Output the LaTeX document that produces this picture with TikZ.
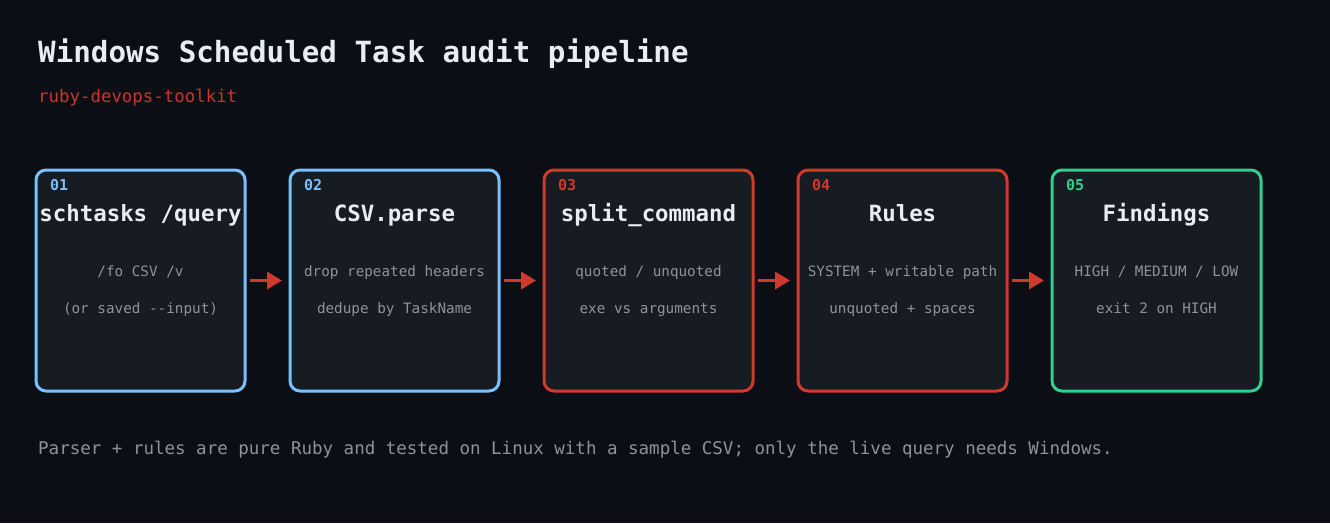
\documentclass[tikz,border=0pt]{standalone}
\usepackage{fontspec}
\setmainfont{DejaVu Sans Mono}
\usetikzlibrary{arrows.meta}
\definecolor{bg}{HTML}{0B0E14}
\definecolor{boxfill}{HTML}{171B22}
\definecolor{cblue}{HTML}{79C0FF}
\definecolor{cred}{HTML}{CF3A2E}
\definecolor{cgreen}{HTML}{2FD08F}
\definecolor{ctitle}{HTML}{E6EDF3}
\definecolor{cgrey}{HTML}{8B949E}
\definecolor{csub}{HTML}{C9362F}
\tikzset{
  stage/.style={draw=#1, line width=3pt, fill=boxfill, rounded corners=10pt,
    minimum width=209pt, minimum height=221pt, inner sep=0pt, outer sep=0pt},
  numlbl/.style={text=#1, font=\fontsize{15}{15}\selectfont\bfseries, anchor=base west, inner sep=0pt},
  steptitle/.style={text=ctitle, font=\fontsize{22.4}{22.4}\selectfont\bfseries, anchor=base, inner sep=0pt},
  stepline/.style={text=cgrey, font=\fontsize{14.3}{14.3}\selectfont, anchor=base, inner sep=0pt},
  flow/.style={draw=cred, line width=3.8pt, -{Triangle[length=15pt,width=17pt]}, shorten <=5pt, shorten >=8pt},
}
\begin{document}
\begin{tikzpicture}[x=1pt,y=-1pt]
\fill[bg] (0,0) rectangle (1330,523);
\useasboundingbox (0,0) rectangle (1330,523);
\node[text=ctitle, font=\fontsize{29.2}{29.2}\selectfont\bfseries, anchor=base west, inner sep=0pt] (title) at (38,62) {Windows Scheduled Task audit pipeline};
\node[text=csub, font=\fontsize{17.4}{17.4}\selectfont, anchor=base west, inner sep=0pt] (subtitle) at (38,102) {ruby-devops-toolkit};
\node[text=cgrey, font=\fontsize{17.5}{17.5}\selectfont, anchor=base west, inner sep=0pt] (footer) at (38,454) {Parser + rules are pure Ruby and tested on Linux with a sample CSV; only the live query needs Windows.};
% boxes
\node[stage=cblue] (b1) at (140.5,280.5) {};
\node[stage=cblue] (b2) at (394.5,280.5) {};
\node[stage=cred] (b3) at (648.5,280.5) {};
\node[stage=cred] (b4) at (902.5,280.5) {};
\node[stage=cgreen] (b5) at (1156.5,280.5) {};
% numbers
\node[numlbl=cblue] (n1) at (50,190) {01};
\node[numlbl=cblue] (n2) at (304,190) {02};
\node[numlbl=cred] (n3) at (558,190) {03};
\node[numlbl=cred] (n4) at (812,190) {04};
\node[numlbl=cgreen] (n5) at (1066,190) {05};
% titles
\node[steptitle] (t1) at (140.5,221) {schtasks /query};
\node[steptitle] (t2) at (394.5,221) {CSV.parse};
\node[steptitle] (t3) at (648.5,221) {split\_command};
\node[steptitle] (t4) at (902.5,221) {Rules};
\node[steptitle] (t5) at (1156.5,221) {Findings};
% lines
\node[stepline] (l1a) at (140.5,276) {/fo CSV /v};
\node[stepline] (l1b) at (140.5,313) {(or saved -{}-input)};
\node[stepline] (l2a) at (394.5,276) {drop repeated headers};
\node[stepline] (l2b) at (394.5,313) {dedupe by TaskName};
\node[stepline] (l3a) at (648.5,276) {quoted / unquoted};
\node[stepline] (l3b) at (648.5,313) {exe vs arguments};
\node[stepline] (l4a) at (902.5,276) {SYSTEM + writable path};
\node[stepline] (l4b) at (902.5,313) {unquoted + spaces};
\node[stepline] (l5a) at (1156.5,276) {HIGH / MEDIUM / LOW};
\node[stepline] (l5b) at (1156.5,313) {exit 2 on HIGH};
% arrows
\draw[flow] (b1.east) -- (b2.west);
\draw[flow] (b2.east) -- (b3.west);
\draw[flow] (b3.east) -- (b4.west);
\draw[flow] (b4.east) -- (b5.west);
\end{tikzpicture}
\end{document}
